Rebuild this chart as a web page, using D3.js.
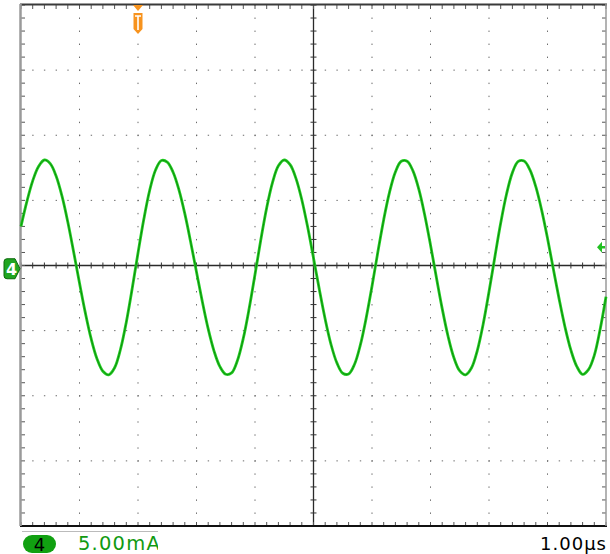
<!DOCTYPE html>
<html><head><meta charset="utf-8">
<script src="https://cdn.jsdelivr.net/npm/d3@7"></script>
<style>html,body{margin:0;padding:0;background:#fff;}svg{display:block;}</style>
</head><body>
<script>
// time base (µs from left edge), 0.1 µs steps
const timeUs = d3.range(0, 101).map(i => +(i * 0.1).toFixed(1));
// channel 4 current (mA)
const currentMA = [
 3.00, 4.90, 6.50, 7.60, 8.10, 7.82, 6.87, 5.34, 3.34, 1.04,
 -1.35, -3.64, -5.64, -7.17, -8.12, -8.39, -7.85, -6.45, -4.35, -1.79,
 0.96, 3.57, 5.78, 7.33, 8.06, 7.94, 7.16, 5.81, 3.98, 1.81,
 -0.50, -2.78, -4.87, -6.57, -7.76, -8.35, -8.24, -7.29, -5.59, -3.31,
 -0.69, 1.99, 4.44, 6.39, 7.66, 8.10, 7.74, 6.69, 5.05, 2.95,
 0.58, -1.85, -4.13, -6.07, -7.48, -8.27, -8.33, -7.60, -6.12, -4.04,
 -1.59, 1.03, 3.52, 5.63, 7.18, 8.00, 8.01, 7.27, 5.86, 3.90,
 1.58, -0.90, -3.31, -5.43, -7.08, -8.09, -8.39, -7.87, -6.53, -4.51,
 -2.02, 0.66, 3.26, 5.49, 7.13, 7.99, 8.02, 7.34, 6.05, 4.25,
 2.09, -0.27, -2.60, -4.74, -6.50, -7.74, -8.36, -8.00, -6.90, -4.90,
 -2.40
];
const xDivs = d3.range(0, 11);          // 10 horizontal divisions
const yDivs = d3.range(-4, 5);          // 8 vertical divisions
const unitsPerDiv = 5;                  // mA/div
const channelLabel = "4";
const scaleLabel = "5.00mA";
const timeLabel = "1.00µs";
const triggerTime = 2;                  // µs
const triggerLevel = 1.4;               // mA
const channelOffset = -0.25;            // mA

const W = 610, H = 554;
const L = 21, R = 606, T = 5, B = 526;
const x = d3.scaleLinear().domain([0, 10]).range([L, R]);
const y = d3.scaleLinear().domain([-20, 20]).range([B, T]);

const svg = d3.select("body").append("svg").attr("width", W).attr("height", H);

// dotted grid
const g = svg.append("g");
const minor = d3.range(0, 51).map(v => v / 5);   // every 0.2 div in x
const minorY = d3.range(-20, 21);                // every 0.2 div in y (1 mA)
xDivs.filter(d => d > 0 && d < 10 && d !== 5).forEach(d => {
  minorY.forEach(v => g.append("rect").attr("x", x(d) - 0.5).attr("y", y(v) - 0.5)
    .attr("width", 1).attr("height", 1.4).attr("fill", "#6a6a6a"));
});
yDivs.filter(d => d > -4 && d < 4 && d !== 0).forEach(d => {
  minor.forEach(v => g.append("rect").attr("x", x(v) - 0.5).attr("y", y(d * unitsPerDiv) - 0.5)
    .attr("width", 1.4).attr("height", 1).attr("fill", "#6a6a6a"));
});

// center axes
g.append("line").attr("x1", L).attr("x2", R).attr("y1", y(0)).attr("y2", y(0))
  .attr("stroke", "#2a2a2a").attr("stroke-width", 1.3);
g.append("line").attr("x1", x(5)).attr("x2", x(5)).attr("y1", T).attr("y2", B)
  .attr("stroke", "#2a2a2a").attr("stroke-width", 1.3);
minor.forEach(v => g.append("line").attr("x1", x(v)).attr("x2", x(v))
  .attr("y1", y(0) - 3).attr("y2", y(0) + 3).attr("stroke", "#333").attr("stroke-width", 1));
minorY.forEach(v => g.append("line").attr("y1", y(v)).attr("y2", y(v))
  .attr("x1", x(5) - 3).attr("x2", x(5) + 3).attr("stroke", "#333").attr("stroke-width", 1));

// border ticks
minor.forEach(v => {
  g.append("line").attr("x1", x(v)).attr("x2", x(v)).attr("y1", T).attr("y2", T + 4)
    .attr("stroke", "#555").attr("stroke-width", 1);
  g.append("line").attr("x1", x(v)).attr("x2", x(v)).attr("y1", B - 4).attr("y2", B)
    .attr("stroke", "#555").attr("stroke-width", 1);
});
minorY.forEach(v => {
  g.append("line").attr("y1", y(v)).attr("y2", y(v)).attr("x1", L).attr("x2", L + 4)
    .attr("stroke", "#555").attr("stroke-width", 1);
  g.append("line").attr("y1", y(v)).attr("y2", y(v)).attr("x1", R - 4).attr("x2", R)
    .attr("stroke", "#555").attr("stroke-width", 1);
});

// borders
g.append("line").attr("x1", L - 1).attr("x2", R + 1).attr("y1", T - 0.5).attr("y2", T - 0.5)
  .attr("stroke", "#3a3a3a").attr("stroke-width", 2);
g.append("line").attr("x1", L - 1).attr("x2", R + 1).attr("y1", B).attr("y2", B)
  .attr("stroke", "#111").attr("stroke-width", 2);
g.append("line").attr("x1", L - 0.5).attr("x2", L - 0.5).attr("y1", T - 1).attr("y2", B)
  .attr("stroke", "#9a9a9a").attr("stroke-width", 2.5);
g.append("line").attr("x1", R).attr("x2", R).attr("y1", T - 1).attr("y2", B)
  .attr("stroke", "#9a9a9a").attr("stroke-width", 1.5);

// trace
const pts = timeUs.map((t, i) => [t, currentMA[i]]);
const line = d3.line().x(d => x(d[0])).y(d => y(d[1])).curve(d3.curveCatmullRom.alpha(0.5));
svg.append("path").attr("d", line(pts)).attr("fill", "none")
  .attr("stroke", "#24cc24").attr("stroke-width", 2.8).attr("stroke-linejoin", "round");
svg.append("path").attr("d", line(pts)).attr("fill", "none")
  .attr("stroke", "#0b8f0b").attr("stroke-width", 1.0).attr("stroke-linejoin", "round");

// channel marker (left)
const cy = y(channelOffset);
svg.append("path")
  .attr("d", `M7,${cy - 10} L15,${cy - 10} L20,${cy} L15,${cy + 10} L7,${cy + 10} Q4,${cy + 10} 4,${cy + 7} L4,${cy - 7} Q4,${cy - 10} 7,${cy - 10} Z`)
  .attr("fill", "#20a520").attr("stroke", "#0a6a0a").attr("stroke-width", 1);
svg.append("text").attr("x", 11.5).attr("y", cy + 6).attr("text-anchor", "middle")
  .attr("font-family", "DejaVu Sans, sans-serif").attr("font-weight", "bold").attr("font-size", 16)
  .attr("fill", "#fff").text(channelLabel);

// trigger position marker
const tx = x(triggerTime);
svg.append("path").attr("d", `M${tx - 5},${T} L${tx + 5},${T} L${tx},${T + 6} Z`).attr("fill", "#f7931e");
svg.append("path")
  .attr("d", `M${tx - 4.5},${T + 8} L${tx + 4.5},${T + 8} L${tx + 4.5},${T + 24} L${tx},${T + 29} L${tx - 4.5},${T + 24} Z`)
  .attr("fill", "#f7931e");
svg.append("path").attr("d", `M${tx - 3},${T + 11} L${tx + 3},${T + 11} M${tx},${T + 11} L${tx},${T + 25}`)
  .attr("stroke", "#fff").attr("stroke-width", 1.6).attr("fill", "none");

// trigger level arrow (right)
const ty = y(triggerLevel);
svg.append("path").attr("d", `M${R - 9},${ty} L${R - 4},${ty - 5.5} L${R - 4},${ty - 1.3} L${R - 1},${ty - 1.3} L${R - 1},${ty + 1.3} L${R - 4},${ty + 1.3} L${R - 4},${ty + 5.5} Z`)
  .attr("fill", "#22c022");

// bottom labels
svg.append("line").attr("x1", 22).attr("x2", 158).attr("y1", 531.5).attr("y2", 531.5)
  .attr("stroke", "#bbb").attr("stroke-width", 1);
svg.append("rect").attr("x", 23).attr("y", 535).attr("width", 33).attr("height", 18).attr("rx", 9)
  .attr("fill", "#11a011");
svg.append("text").attr("x", 39.5).attr("y", 551).attr("text-anchor", "middle")
  .attr("font-family", "DejaVu Sans, sans-serif").attr("font-size", 18).attr("fill", "#000").text(channelLabel);
svg.append("clipPath").attr("id", "lc").append("rect").attr("x", 70).attr("y", 530).attr("width", 88).attr("height", 24);
svg.append("text").attr("x", 78).attr("y", 550).attr("clip-path", "url(#lc)")
  .attr("font-family", "DejaVu Sans, sans-serif").attr("font-size", 19.5).attr("letter-spacing", 1.2)
  .attr("fill", "#119a11").text(scaleLabel);
svg.append("text").attr("x", 607).attr("y", 550).attr("text-anchor", "end")
  .attr("font-family", "DejaVu Sans, sans-serif").attr("font-size", 18).attr("letter-spacing", 1)
  .attr("fill", "#000").text(timeLabel);
</script>
</body></html>
